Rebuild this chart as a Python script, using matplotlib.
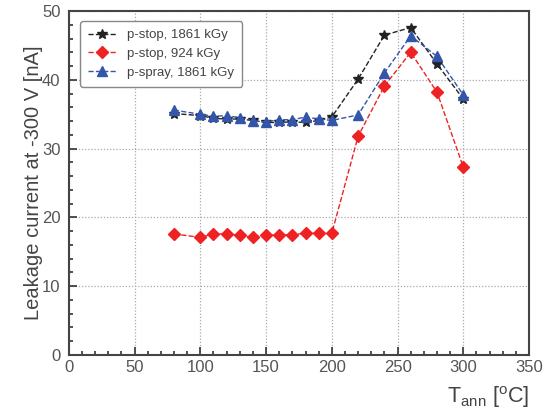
import numpy as np
import matplotlib.pyplot as plt
from matplotlib.ticker import MultipleLocator

plt.rcParams['font.family'] = ['Liberation Sans', 'DejaVu Sans']
plt.rcParams['mathtext.fontset'] = 'custom'
plt.rcParams['mathtext.rm'] = 'Liberation Sans'
plt.rcParams['mathtext.it'] = 'Liberation Sans'

# annealing temperatures [C]
t_ann = [80, 100, 110, 120, 130, 140, 150, 160, 170, 180, 190, 200, 220, 240, 260, 280, 300]

# leakage current at -300 V [nA]
pstop_1861 = [35.1, 34.8, 34.4, 34.3, 34.3, 34.1, 33.8, 33.8, 33.9, 33.8, 34.1, 34.6,
              40.1, 46.5, 47.6, 42.3, 37.2]
pstop_924 = [17.6, 17.1, 17.6, 17.6, 17.4, 17.1, 17.5, 17.4, 17.5, 17.7, 17.7, 17.7,
             31.8, 39.1, 44.0, 38.2, 27.3]
pspray_1861 = [35.6, 35.0, 34.7, 34.8, 34.5, 34.0, 33.9, 34.2, 34.2, 34.6, 34.3, 34.1,
               34.9, 41.0, 46.4, 43.4, 37.8]

fig = plt.figure(figsize=(5.46, 4.09), dpi=100)
ax = fig.add_axes([0.126, 0.132, 0.843, 0.841])

ax.plot(t_ann, pstop_1861, '--', color='#222222', marker='*', ms=7, lw=1, label='p-stop, 1861 kGy')
ax.plot(t_ann, pstop_924, '--', color='#ee2222', marker='D', ms=6.5, lw=1, label='p-stop, 924 kGy')
ax.plot(t_ann, pspray_1861, '--', color='#3355aa', marker='^', ms=7, lw=1, label='p-spray, 1861 kGy')

ax.set_xlim(0, 350)
ax.set_ylim(0, 50)
ax.xaxis.set_major_locator(MultipleLocator(50))
ax.xaxis.set_minor_locator(MultipleLocator(10))
ax.yaxis.set_major_locator(MultipleLocator(10))
ax.yaxis.set_minor_locator(MultipleLocator(2))
ax.tick_params(which='both', direction='in', labelsize=12, colors='#333333', labelcolor='#555555')
ax.tick_params(which='major', length=6, width=1.2)
ax.tick_params(which='minor', length=3, width=1.2)
ax.tick_params(axis='y', pad=6)
ax.grid(True, which='major', ls=(0, (1, 1.5)), color='#aaaaaa', lw=0.9)
for s in ax.spines.values():
    s.set_linewidth(1.5)
    s.set_color('#444444')

ax.set_ylabel('Leakage current at -300 V [nA]', fontsize=14.5, color='#444444', labelpad=-1)
ax.set_xlabel(r'T$_{\rm ann}$ [$^{\rm o}$C]', fontsize=15.5, color='#444444', loc='right', labelpad=7)

leg = ax.legend(loc='upper left', bbox_to_anchor=(0.01, 0.99), fontsize=9.5, frameon=True,
                fancybox=True, edgecolor='#888888', framealpha=1, handlelength=2.2,
                borderpad=0.6, labelspacing=0.5)
for t in leg.get_texts():
    t.set_color('#444444')

fig.savefig('out.png', dpi=100)
